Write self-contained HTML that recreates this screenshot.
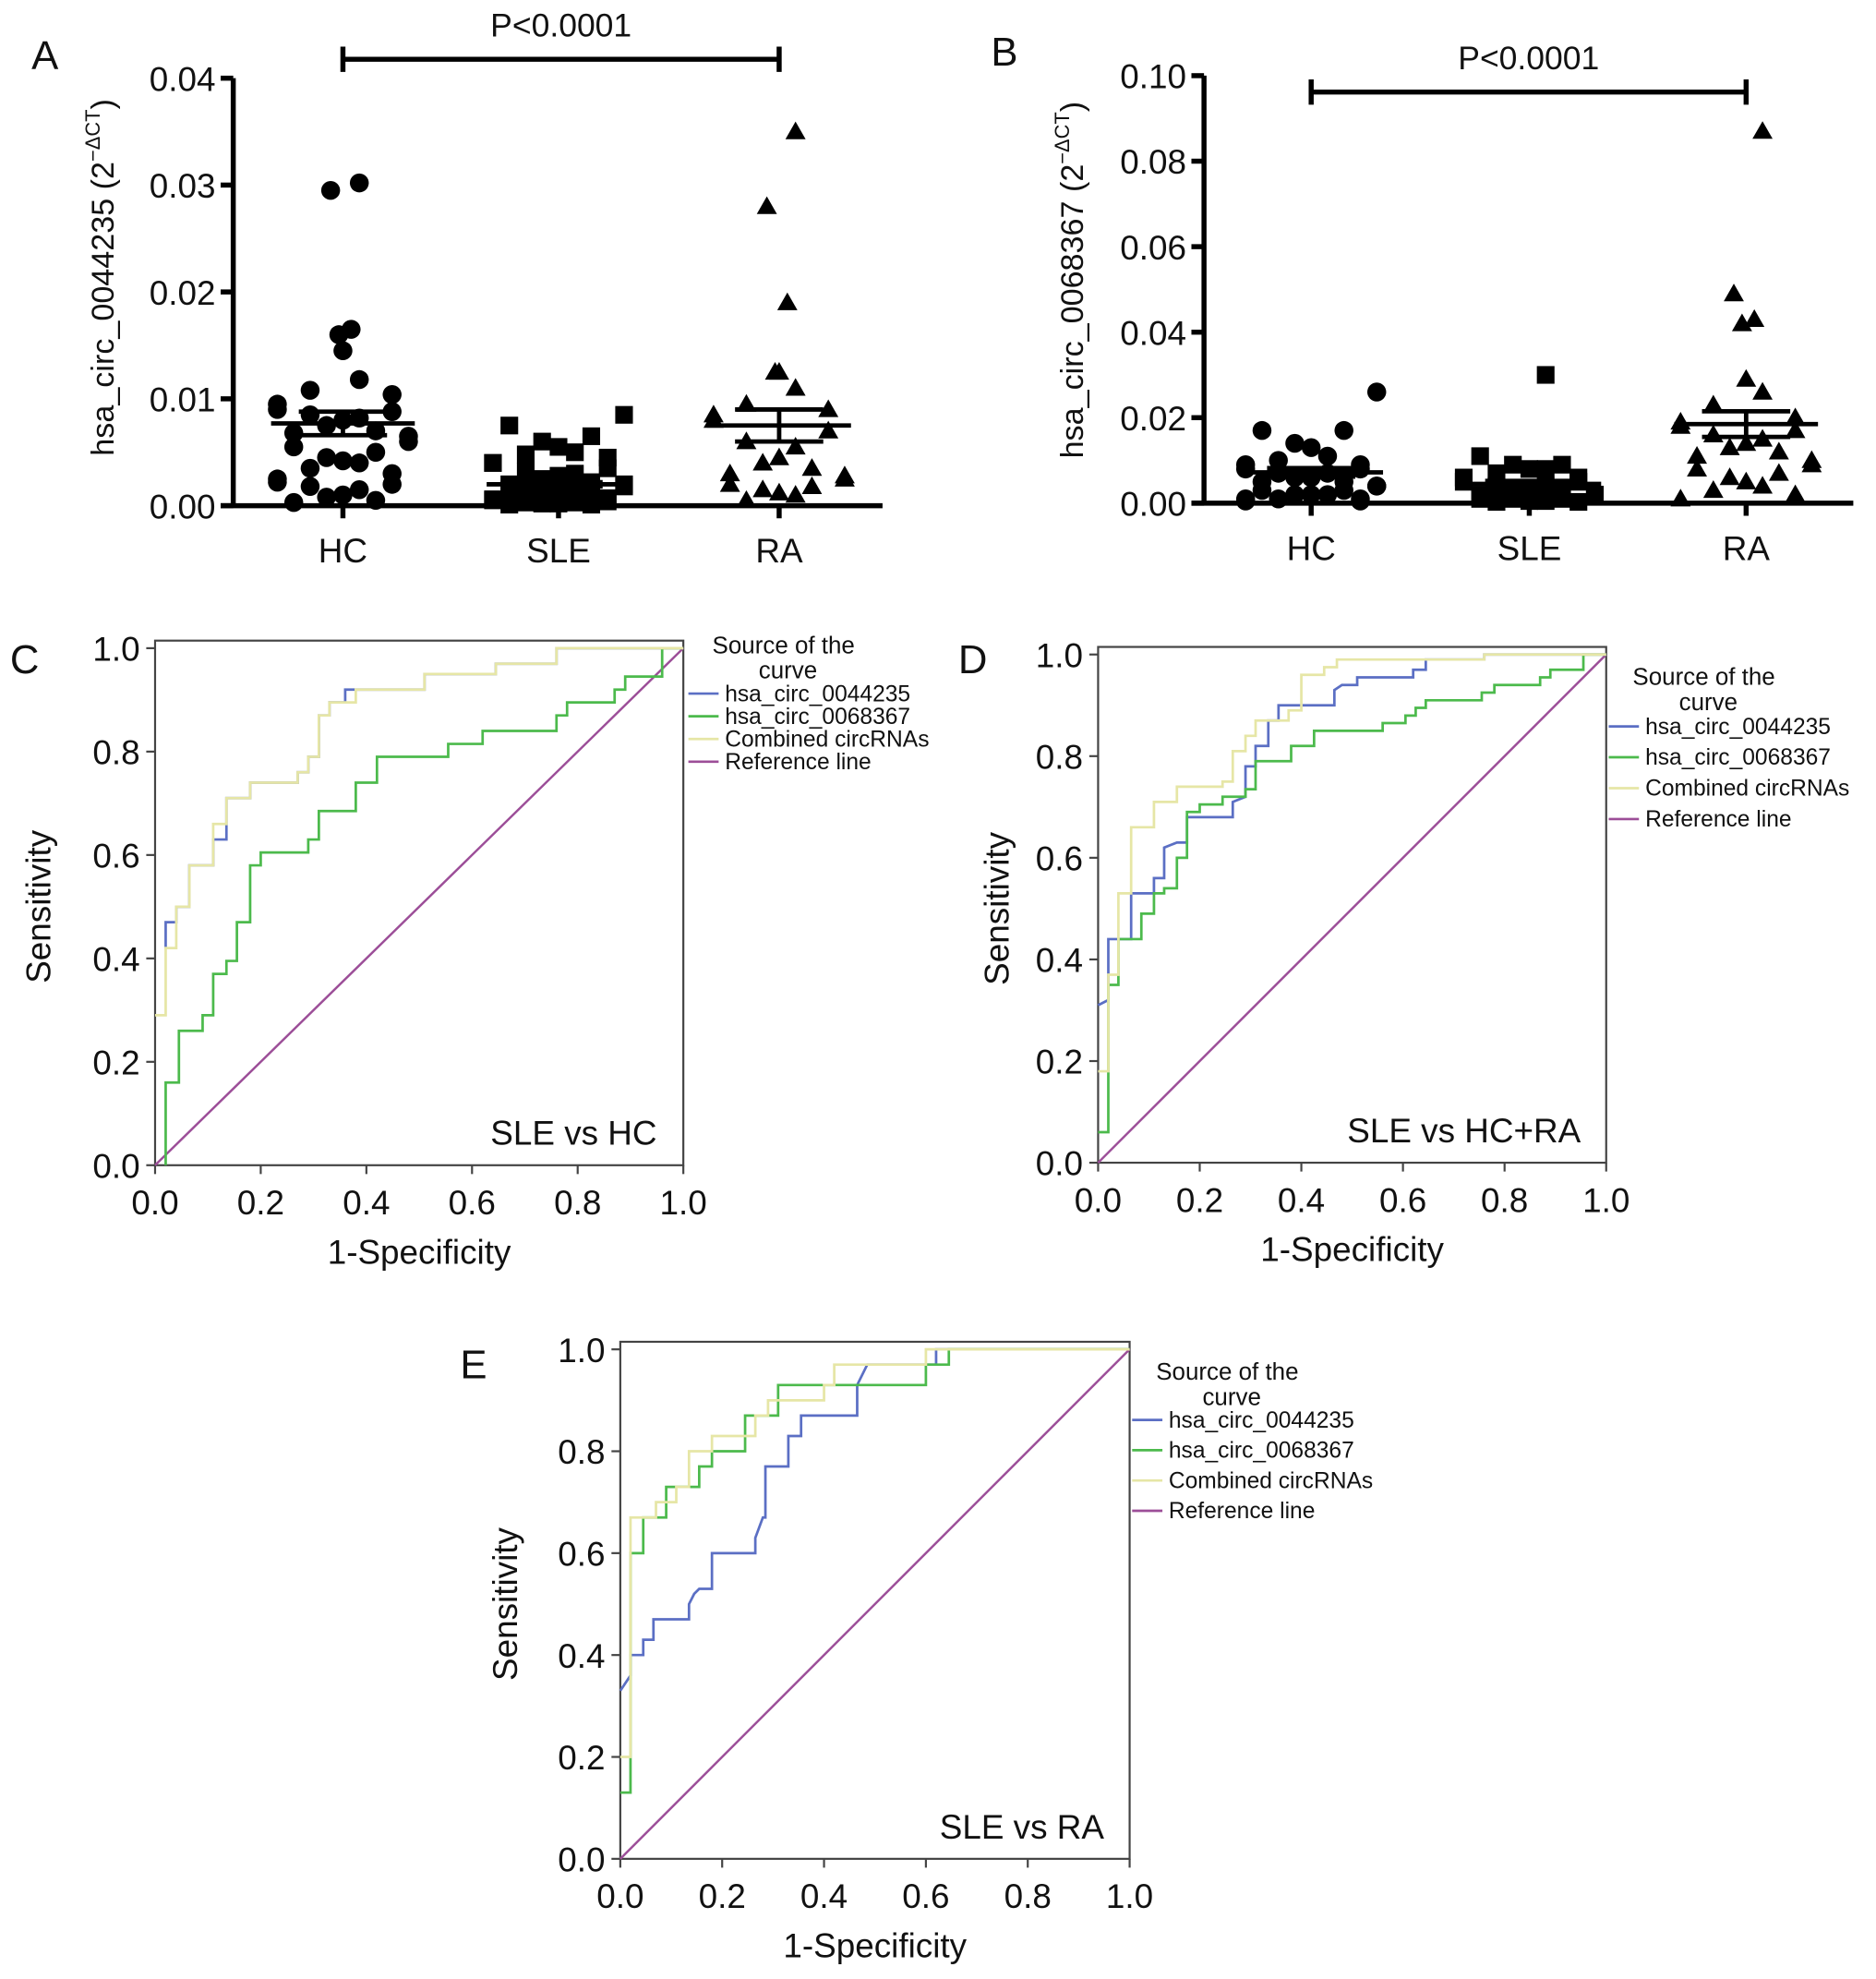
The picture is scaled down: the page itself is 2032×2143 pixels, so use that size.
<!DOCTYPE html>
<html><head><meta charset="utf-8"><style>
html,body{margin:0;padding:0;background:#fff}
svg{display:block;font-family:"Liberation Sans",sans-serif}
</style></head><body>
<svg id="fig" width="2032" height="2143" viewBox="0 0 1488 1569.3" xmlns="http://www.w3.org/2000/svg"></svg>
<script>
// ---------- data ----------
const groups = ["HC","SLE","RA"];
const aHC = [0.0295,0.0302,0.016,0.0165,0.0145,0.0118,0.0108,0.0104,0.0095,0.009,0.0088,0.0085,0.0082,0.008,0.0075,0.007,0.0068,0.0065,0.006,0.0055,0.005,0.0045,0.0042,0.004,0.0035,0.003,0.0025,0.0022,0.002,0.0018,0.0015,0.001,0.0008,0.0005,0.0003];
const aSLE = [0.0085,0.0075,0.0065,0.006,0.0055,0.005,0.0048,0.0045,0.004,0.004,0.0035,0.0032,0.003,0.0028,0.0025,0.0022,0.002,0.002,0.0018,0.0015,0.0013,0.0012,0.001,0.001,0.0008,0.0007,0.0006,0.0005,0.0004,0.0003,0.0003,0.0002,0.0002,0.0001,0.0001];
const aRA = [0.035,0.028,0.019,0.0125,0.0125,0.011,0.0095,0.009,0.0085,0.008,0.007,0.006,0.0055,0.0045,0.004,0.0035,0.003,0.0028,0.0025,0.002,0.0018,0.0015,0.0012,0.001,0.0005];
const aMean = [0.0077,0.002,0.0075];
const aSemHi = [0.0088,0.0022,0.009];
const aSemLo = [0.0066,0.0018,0.006];
const aTicks = ["0.00","0.01","0.02","0.03","0.04"];
const bHC = [0.026,0.017,0.017,0.014,0.013,0.011,0.01,0.009,0.009,0.008,0.008,0.007,0.007,0.006,0.006,0.005,0.005,0.004,0.004,0.003,0.003,0.002,0.002,0.002,0.001,0.001,0.001,0.0005,0.0005];
const bSLE = [0.030,0.011,0.009,0.009,0.008,0.008,0.007,0.006,0.006,0.005,0.005,0.004,0.004,0.003,0.003,0.003,0.002,0.002,0.002,0.001,0.001,0.001,0.0005,0.0005,0.0003,0.0003];
const bRA = [0.087,0.049,0.043,0.042,0.029,0.026,0.023,0.02,0.019,0.018,0.017,0.016,0.015,0.014,0.013,0.012,0.011,0.01,0.009,0.008,0.007,0.006,0.005,0.004,0.003,0.002,0.001];
const bMean = [0.0072,0.0045,0.0185];
const bSemHi = [0.0082,0.0052,0.0215];
const bSemLo = [0.0062,0.0038,0.0155];
const bTicks = ["0.00","0.02","0.04","0.06","0.08","0.10"];
const rocTicks = ["0.0","0.2","0.4","0.6","0.8","1.0"];
const cBlue = [[0.02,0.42],[0.02,0.47],[0.04,0.47],[0.04,0.5],[0.065,0.5],[0.065,0.58],[0.11,0.58],[0.11,0.63],[0.135,0.63],[0.135,0.71],[0.18,0.71],[0.18,0.74],[0.27,0.74],[0.27,0.76],[0.29,0.76],[0.29,0.79],[0.31,0.79],[0.31,0.87],[0.33,0.87],[0.33,0.895],[0.36,0.895],[0.36,0.92],[0.51,0.92],[0.51,0.95],[0.645,0.95],[0.645,0.97],[0.76,0.97],[0.76,1],[1,1]];
const cGreen = [[0.02,0],[0.02,0.16],[0.045,0.16],[0.045,0.26],[0.09,0.26],[0.09,0.29],[0.11,0.29],[0.11,0.37],[0.135,0.37],[0.135,0.395],[0.155,0.395],[0.155,0.47],[0.18,0.47],[0.18,0.58],[0.2,0.58],[0.2,0.605],[0.29,0.605],[0.29,0.63],[0.31,0.63],[0.31,0.685],[0.38,0.685],[0.38,0.74],[0.42,0.74],[0.42,0.79],[0.555,0.79],[0.555,0.815],[0.62,0.815],[0.62,0.84],[0.76,0.84],[0.76,0.87],[0.78,0.87],[0.78,0.895],[0.87,0.895],[0.87,0.92],[0.89,0.92],[0.89,0.945],[0.96,0.945],[0.96,1],[1,1]];
const cComb = [[0,0.29],[0.02,0.29],[0.02,0.42],[0.04,0.42],[0.04,0.5],[0.065,0.5],[0.065,0.58],[0.11,0.58],[0.11,0.66],[0.135,0.66],[0.135,0.71],[0.18,0.71],[0.18,0.74],[0.27,0.74],[0.27,0.76],[0.29,0.76],[0.29,0.79],[0.31,0.79],[0.31,0.87],[0.33,0.87],[0.33,0.895],[0.38,0.895],[0.38,0.92],[0.51,0.92],[0.51,0.95],[0.645,0.95],[0.645,0.97],[0.76,0.97],[0.76,1],[1,1]];
const dBlue = [[0,0.31],[0.02,0.32],[0.02,0.44],[0.065,0.44],[0.065,0.53],[0.11,0.53],[0.11,0.56],[0.13,0.56],[0.13,0.62],[0.155,0.63],[0.175,0.63],[0.175,0.68],[0.265,0.68],[0.265,0.71],[0.29,0.72],[0.29,0.78],[0.31,0.78],[0.31,0.82],[0.335,0.82],[0.335,0.87],[0.355,0.87],[0.355,0.9],[0.465,0.9],[0.465,0.93],[0.48,0.94],[0.51,0.94],[0.51,0.955],[0.62,0.955],[0.62,0.97],[0.645,0.97],[0.645,0.99],[0.76,0.99],[0.76,1],[1,1]];
const dGreen = [[0,0.06],[0.02,0.06],[0.02,0.35],[0.04,0.35],[0.04,0.44],[0.085,0.44],[0.085,0.49],[0.11,0.49],[0.11,0.53],[0.13,0.53],[0.13,0.54],[0.155,0.54],[0.155,0.6],[0.175,0.6],[0.175,0.69],[0.2,0.69],[0.2,0.705],[0.245,0.705],[0.245,0.72],[0.29,0.72],[0.29,0.735],[0.31,0.735],[0.31,0.79],[0.38,0.79],[0.38,0.82],[0.425,0.82],[0.425,0.85],[0.56,0.85],[0.56,0.865],[0.605,0.865],[0.605,0.88],[0.625,0.88],[0.625,0.895],[0.645,0.895],[0.645,0.91],[0.755,0.91],[0.755,0.925],[0.78,0.925],[0.78,0.94],[0.87,0.94],[0.87,0.955],[0.89,0.955],[0.89,0.97],[0.955,0.97],[0.955,1],[1,1]];
const dComb = [[0,0.18],[0.02,0.18],[0.02,0.37],[0.04,0.37],[0.04,0.53],[0.065,0.53],[0.065,0.66],[0.11,0.66],[0.11,0.71],[0.155,0.71],[0.155,0.74],[0.245,0.74],[0.245,0.75],[0.265,0.75],[0.265,0.81],[0.29,0.81],[0.29,0.84],[0.31,0.84],[0.31,0.87],[0.375,0.87],[0.375,0.89],[0.4,0.89],[0.4,0.96],[0.445,0.96],[0.445,0.975],[0.47,0.975],[0.47,0.99],[0.76,0.99],[0.76,1],[1,1]];
const eBlue = [[0,0.33],[0.02,0.36],[0.02,0.4],[0.045,0.4],[0.045,0.43],[0.065,0.43],[0.065,0.47],[0.135,0.47],[0.135,0.5],[0.145,0.52],[0.155,0.53],[0.18,0.53],[0.18,0.6],[0.265,0.6],[0.265,0.63],[0.28,0.67],[0.285,0.67],[0.285,0.77],[0.33,0.77],[0.33,0.83],[0.355,0.83],[0.355,0.87],[0.465,0.87],[0.465,0.93],[0.485,0.97],[0.62,0.97],[0.62,1],[1,1]];
const eGreen = [[0,0.13],[0.02,0.13],[0.02,0.6],[0.045,0.6],[0.045,0.67],[0.09,0.67],[0.09,0.73],[0.155,0.73],[0.155,0.77],[0.18,0.77],[0.18,0.8],[0.245,0.8],[0.245,0.87],[0.31,0.87],[0.31,0.93],[0.6,0.93],[0.6,0.97],[0.645,0.97],[0.645,1],[1,1]];
const eComb = [[0,0.2],[0.02,0.2],[0.02,0.67],[0.07,0.67],[0.07,0.7],[0.11,0.7],[0.11,0.73],[0.135,0.73],[0.135,0.8],[0.18,0.8],[0.18,0.83],[0.265,0.83],[0.265,0.87],[0.29,0.87],[0.29,0.9],[0.4,0.9],[0.4,0.93],[0.42,0.93],[0.42,0.97],[0.6,0.97],[0.6,1],[1,1]];
const legendLabels = ["hsa_circ_0044235","hsa_circ_0068367","Combined circRNAs","Reference line"];

// ---------- drawing ----------
const NS = "http://www.w3.org/2000/svg";
const svg = document.getElementById("fig");
function mk(tag, attrs, parent){
  const e = document.createElementNS(NS, tag);
  for (const k in attrs) e.setAttribute(k, attrs[k]);
  (parent||svg).appendChild(e);
  return e;
}
function txt(s, x, y, size, anchor, name, parent, extra){
  const t = mk("text", Object.assign({x:x, y:y, "font-size":size, "text-anchor":anchor||"start", fill:"#111"}, extra||{}), parent);
  t.textContent = s;
  
  
  return t;
}

function dotPlot(cfg){
  const g = mk("g", {});
  
  
  const y = v => cfg.y0 - (v / cfg.max) * (cfg.y0 - cfg.y1);
  const ax = mk("path", {d:`M${cfg.ax} ${cfg.y1} V${cfg.y0} M${cfg.ax-10} ${cfg.y0} H${cfg.xr}`, stroke:"#000", "stroke-width":4, fill:"none"}, g);
  
  
  cfg.ticks.forEach((t, i) => {
    const v = cfg.max * i / (cfg.ticks.length - 1);
    const tk = mk("line", {x1:cfg.ax-10, x2:cfg.ax, y1:y(v), y2:y(v), stroke:"#000", "stroke-width":4}, g);
    
    
    txt(t, cfg.ax-14, y(v)+10, 27, "end", "y-tick-label", g);
  });
  const series = [cfg.hc, cfg.sle, cfg.ra];
  groups.forEach((gn, gi) => {
    const cx = cfg.gx[gi];
    const tk = mk("line", {x1:cx, x2:cx, y1:cfg.y0, y2:cfg.y0+10, stroke:"#000", "stroke-width":4}, g);
    
    
    txt(gn, cx, cfg.y0+45, 27, "middle", "x-tick-label", g);
    const vals = series[gi].slice().sort((a,b)=>b-a);
    vals.forEach((v, i) => {
      const spread = v < cfg.max*0.3 ? 1 : 0.25;
      const k = (i % 9) - 4;
      const off = k * 13 * spread * (i%2?1:-1);
      const px = cx + off, py = y(v);
      let m;
      if (gi === 0) m = mk("circle", {cx:px, cy:py, r:7.5, fill:"#000"}, g);
      else if (gi === 1) m = mk("rect", {x:px-7, y:py-7, width:14, height:14, fill:"#000"}, g);
      else m = mk("path", {d:`M${px} ${py-8} L${px+8} ${py+6} L${px-8} ${py+6}Z`, fill:"#000"}, g);
      
      
    });
    const ml = mk("path", {d:`M${cx-57} ${y(cfg.mean[gi])} H${cx+57} M${cx-35} ${y(cfg.hi[gi])} H${cx+35} M${cx-35} ${y(cfg.lo[gi])} H${cx+35} M${cx} ${y(cfg.hi[gi])} V${y(cfg.lo[gi])}`, stroke:"#000", "stroke-width":3.5, fill:"none"}, g);
    
    
  });
  const br = mk("path", {d:`M${cfg.gx[0]} ${cfg.barY} H${cfg.gx[2]} M${cfg.gx[0]} ${cfg.barY-10} V${cfg.barY+10} M${cfg.gx[2]} ${cfg.barY-10} V${cfg.barY+10}`, stroke:"#000", "stroke-width":4, fill:"none"}, g);
  
  
  txt("P<0.0001", (cfg.gx[0]+cfg.gx[2])/2, cfg.barY-18, 26, "middle", "p-value-label", g);
  const yl = txt("", 0, 0, 25, "middle", "y-axis-title", g, {transform:`translate(${cfg.ylx},${cfg.yly}) rotate(-90)`});
  yl.innerHTML = cfg.ylab + ' (2<tspan font-size="16" dy="-11">−ΔCT</tspan><tspan dy="11">)</tspan>';
  txt(cfg.letter, cfg.lx, cfg.ly, 32, "start", "panel-letter", g);
}

dotPlot({name:"panel-a", letter:"A", lx:25, ly:55, ax:185, y0:401, y1:62, xr:700, max:0.04, ticks:aTicks,
  gx:[272,443,618], hc:aHC, sle:aSLE, ra:aRA, mean:aMean, hi:aSemHi, lo:aSemLo, barY:47,
  ylab:"hsa_circ_0044235", ylx:90, yly:220});
dotPlot({name:"panel-b", letter:"B", lx:786, ly:52, ax:955, y0:399, y1:60, xr:1470, max:0.10, ticks:bTicks,
  gx:[1040,1213,1385], hc:bHC, sle:bSLE, ra:bRA, mean:bMean, hi:bSemHi, lo:bSemLo, barY:73,
  ylab:"hsa_circ_0068367", ylx:859, yly:222});

const colors = ["#5b6fc4","#4cba4c","#e6e6a6","#9c4e98"];
function roc(cfg){
  const g = mk("g", {});
  
  
  const X = v => cfg.x0 + v*(cfg.x1-cfg.x0);
  const Y = v => cfg.y0 - v*(cfg.y0-cfg.y1);
  const box = mk("rect", {x:cfg.x0, y:cfg.y1-6, width:cfg.x1-cfg.x0, height:cfg.y0-cfg.y1+6, fill:"none", stroke:"#444", "stroke-width":1.6}, g);
  
  
  rocTicks.forEach((t, i) => {
    const v = i/5;
    const a = mk("line", {x1:cfg.x0-7, x2:cfg.x0, y1:Y(v), y2:Y(v), stroke:"#444", "stroke-width":1.6}, g);
    
    
    txt(t, cfg.x0-12, Y(v)+10, 27, "end", "y-tick-label", g);
    const b = mk("line", {x1:X(v), x2:X(v), y1:cfg.y0, y2:cfg.y0+7, stroke:"#444", "stroke-width":1.6}, g);
    
    
    txt(t, X(v), cfg.y0+39, 27, "middle", "x-tick-label", g);
  });
  const ref = mk("line", {x1:X(0), y1:Y(0), x2:X(1), y2:Y(1), stroke:colors[3], "stroke-width":1.8}, g);
  
  
  const curves = [[cfg.blue,0,"curve-hsa-circ-0044235"],[cfg.green,1,"curve-hsa-circ-0068367"],[cfg.comb,2,"curve-combined"]];
  curves.forEach(([pts, ci, nm]) => {
    const d = pts.map((p, i) => (i?"L":"M") + X(p[0]).toFixed(1) + " " + Y(p[1]).toFixed(1)).join(" ");
    const p = mk("path", {d:d, fill:"none", stroke:colors[ci], "stroke-width":2}, g);
    
    
  });
  txt(cfg.title, X(0.95), Y(0.04), 27, "end", "comparison-label", g);
  txt("1-Specificity", (cfg.x0+cfg.x1)/2, cfg.y0+78, 27, "middle", "x-axis-title", g);
  txt("Sensitivity", 0, 0, 27, "middle", "y-axis-title", g, {transform:`translate(${cfg.slx},${(cfg.y0+cfg.y1)/2}) rotate(-90)`});
  txt(cfg.letter, cfg.lx, cfg.ly, 32, "start", "panel-letter", g);
  const lg = mk("g", {}, g);
  
  
  txt("Source of the", cfg.lgx+19, cfg.lgy, cfg.lfs+1, "start", "legend-title", lg);
  txt("curve", cfg.lgx+79, cfg.lgy+20, cfg.lfs+1, "middle", "legend-title", lg);
  legendLabels.forEach((l, i) => {
    const yy = cfg.ly0 + i*cfg.lstep;
    const ln = mk("line", {x1:cfg.lgx, x2:cfg.lgx+24, y1:yy, y2:yy, stroke:colors[i], "stroke-width":2}, lg);
    
    
    txt(l, cfg.lgx+29, yy+6, cfg.lfs, "start", "legend-entry", lg);
  });
}

roc({name:"panel-c", letter:"C", lx:8, ly:534, x0:123, x1:542, y0:924, y1:514, title:"SLE vs HC",
  blue:cBlue, green:cGreen, comb:cComb, slx:40, lgx:546, lgy:518, ly0:550, lstep:18, lfs:18});
roc({name:"panel-d", letter:"D", lx:760, ly:534, x0:871, x1:1274, y0:922, y1:519, title:"SLE vs HC+RA",
  blue:dBlue, green:dGreen, comb:dComb, slx:800, lgx:1276, lgy:543, ly0:576, lstep:24.5, lfs:18});
roc({name:"panel-e", letter:"E", lx:365, ly:1093, x0:492, x1:896, y0:1474, y1:1070, title:"SLE vs RA",
  blue:eBlue, green:eGreen, comb:eComb, slx:410, lgx:898, lgy:1094, ly0:1126, lstep:24, lfs:18});
</script>
</body></html>
